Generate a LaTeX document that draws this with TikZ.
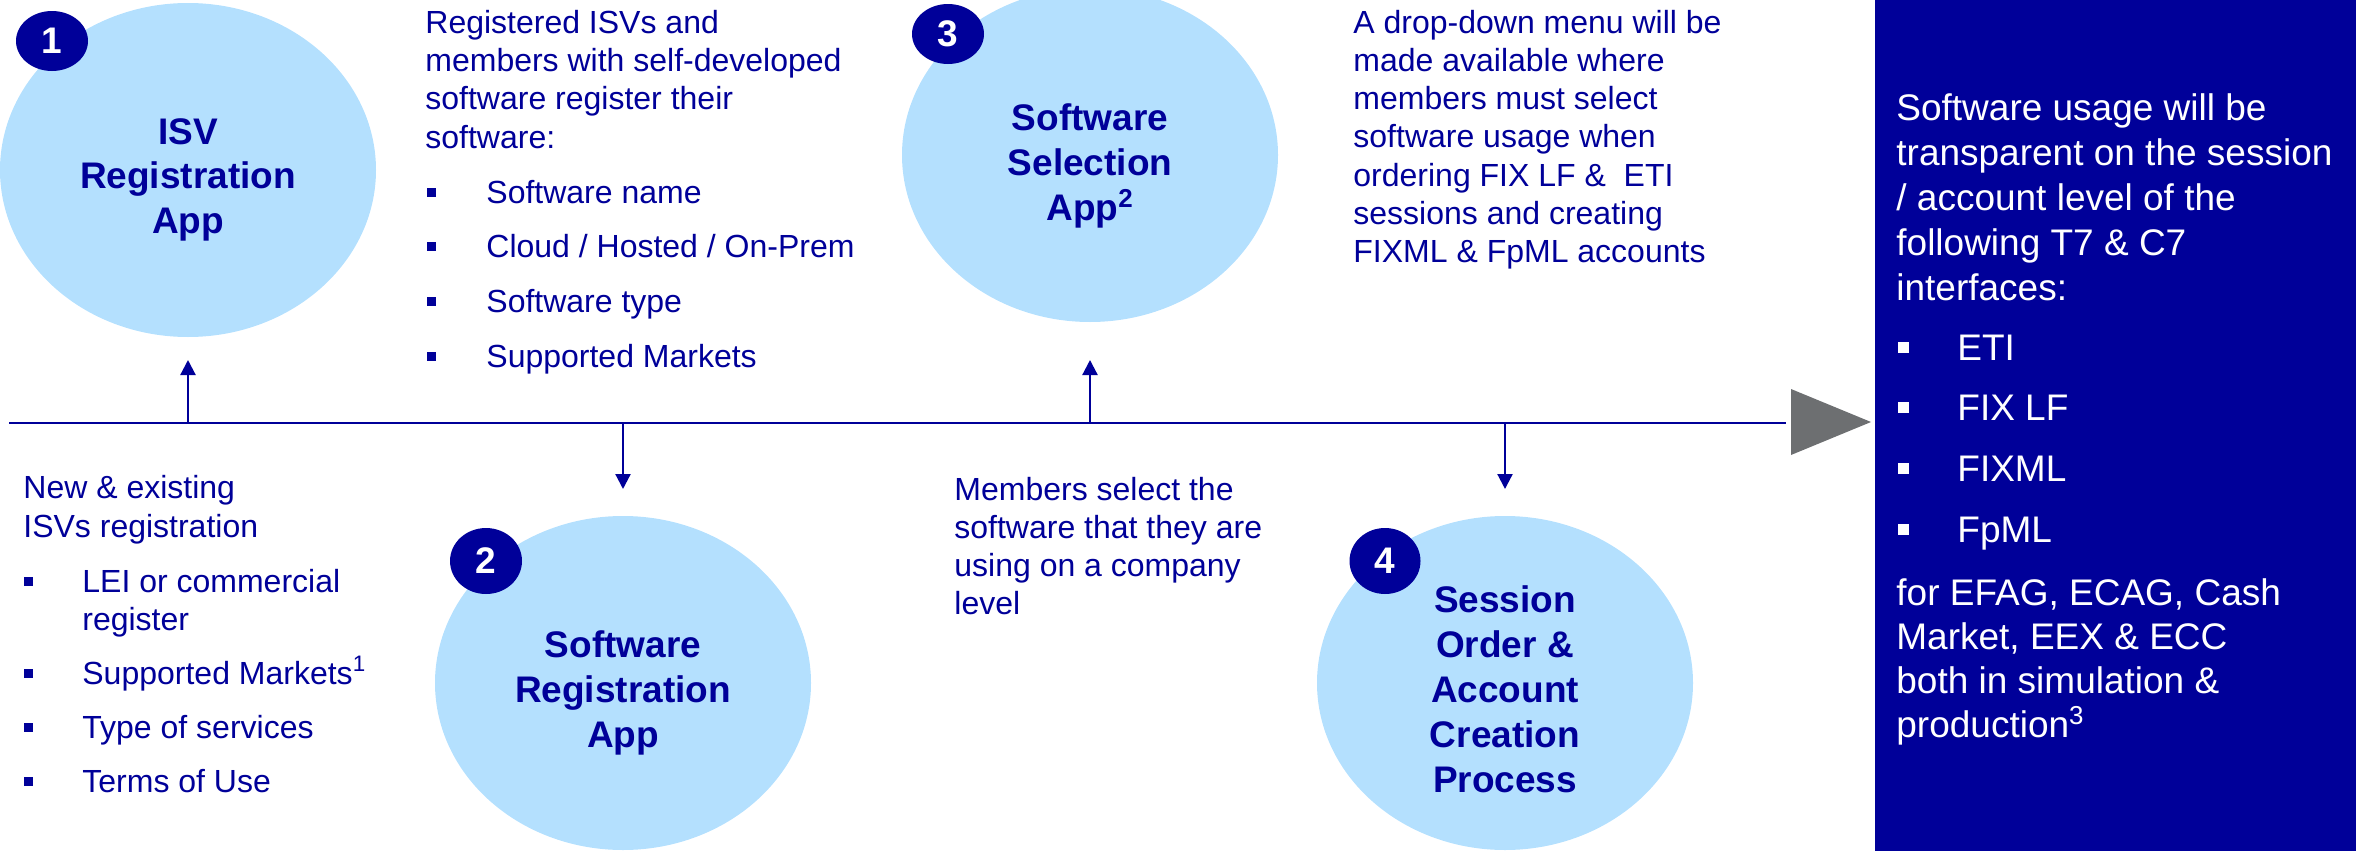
\documentclass[tikz,border=0pt]{standalone}
\usepackage{fontspec}
\setmainfont{Liberation Sans}
\usetikzlibrary{shapes.geometric,arrows.meta}
\definecolor{dblue}{RGB}{0,0,153}
\definecolor{lblue}{RGB}{180,224,254}
\definecolor{tgray}{RGB}{109,111,113}
\begin{document}
\begin{tikzpicture}[x=0.5pt,y=-0.5pt,
  txt/.style={text=dblue, inner sep=0, anchor=base west, font=\fontsize{16}{19}\selectfont},
  ttl/.style={text=dblue, inner sep=0, anchor=base, font=\fontsize{18.5}{22}\selectfont\bfseries},
  wtxt/.style={text=white, inner sep=0, anchor=base west, font=\fontsize{18.5}{22}\selectfont},
  bubble/.style={ellipse, fill=lblue, inner sep=0, minimum width=188pt, minimum height=167pt},
  badge/.style={ellipse, fill=dblue, inner sep=0, text=white, font=\fontsize{18.5}{22}\selectfont\bfseries},
  arr/.style={dblue, line width=1.1pt, -{Triangle[width=7.5pt,length=7.5pt]}}]
\useasboundingbox (0,0) rectangle (2356,851);
% right panel
\fill[dblue] (1875,0) rectangle (2356,851);
% bubbles
\node[bubble] (c1) at (188,170) {};
\node[bubble] (c2) at (623,683) {};
\node[bubble] (c3) at (1090,155) {};
\node[bubble] (c4) at (1505,683) {};
% badges
\node[badge, minimum width=36pt, minimum height=30pt] (b1) at (52,41) {1};
\node[badge, minimum width=36pt, minimum height=33pt] (b2) at (486,561) {2};
\node[badge, minimum width=36pt, minimum height=30pt] (b3) at (948,34) {3};
\node[badge, minimum width=35.5pt, minimum height=33pt] (b4) at (1385,561) {4};
% titles
\foreach \t [count=\i from 0] in {ISV,Registration,App}
  \node[ttl] (t1-\i) at (188,{144+44.5*\i}) {\t};
\foreach \t [count=\i from 0] in {Software,Registration,App}
  \node[ttl] (t2-\i) at (623,{657+45*\i}) {\t};
\foreach \t [count=\i from 0] in {Software,Selection,App\textsuperscript{2}}
  \node[ttl] (t3-\i) at (1090,{130+45*\i}) {\t};
\foreach \t [count=\i from 0] in {Session,Order \&,Account,Creation,Process}
  \node[ttl] (t4-\i) at (1505,{612+45*\i}) {\t};
% timeline
\coordinate (L) at (9,423);
\coordinate (R) at (1786,423);
\draw[dblue, line width=1.1pt] (L) -- (R);
\fill[tgray] (1791,389) -- (1871,422) -- (1791,455) -- cycle;
\coordinate (a1) at (188,423);  \coordinate (e1) at (188,360);
\coordinate (a2) at (623,423);  \coordinate (e2) at (623,489);
\coordinate (a3) at (1090,423); \coordinate (e3) at (1090,360);
\coordinate (a4) at (1505,423); \coordinate (e4) at (1505,489);
\draw[arr] (a1) -- (e1);
\draw[arr] (a2) -- (e2);
\draw[arr] (a3) -- (e3);
\draw[arr] (a4) -- (e4);
% paragraph 1
\foreach \t [count=\i from 0] in {Registered ISVs and,members with self-developed,software register their,software:}
  \node[txt] (p1-\i) at (425,{33+38.4*\i}) {\t};
\foreach \t [count=\i from 0] in {Software name,Cloud / Hosted / On-Prem,Software type,Supported Markets}{
  \fill[dblue] (427,{203+54.7*\i-15.5}) rectangle (436,{203+54.7*\i-6.5});
  \node[txt] (l1-\i) at (486,{203+54.7*\i}) {\t};}
% paragraph 2
\foreach \t [count=\i from 0] in {A drop-down menu will be,made available where,members must select,software usage when,ordering FIX LF \&~ ETI,sessions and creating,FIXML \& FpML accounts}
  \node[txt] (p2-\i) at (1353,{33+38.33*\i}) {\t};
% paragraph 3
\node[txt] (p3-0) at (23,498) {New \& existing};
\node[txt] (p3-1) at (23,537) {ISVs registration};
\node[txt] (l3-0) at (82,592) {LEI or commercial};
\node[txt] (l3-0b) at (82,630) {register};
\node[txt] (l3-1) at (82,684) {Supported Markets\textsuperscript{1}};
\node[txt] (l3-2) at (82,738) {Type of services};
\node[txt] (l3-3) at (82,792) {Terms of Use};
\foreach \y in {592,684,738,792}
  \fill[dblue] (24,{\y-15.5}) rectangle (33,{\y-6.5});
% paragraph 4
\foreach \t [count=\i from 0] in {Members select the,software that they are,using on a company,level}
  \node[txt] (p4-\i) at (954,{500+38.3*\i}) {\t};
% panel text
\foreach \t [count=\i from 0] in {Software usage will be,transparent on the session,/ account level of the,following T7 \& C7,interfaces:}
  \node[wtxt] (w1-\i) at (1896,{120+45*\i}) {\t};
\foreach \t [count=\i from 0] in {ETI,FIX LF,FIXML,FpML}{
  \fill[white] (1898,{360+60.7*\i-18.5}) rectangle (1909,{360+60.7*\i-7.5});
  \node[wtxt] (wl-\i) at (1957,{360+60.7*\i}) {\t};}
\foreach \t [count=\i from 0] in {{for EFAG, ECAG, Cash},{Market, EEX \& ECC},both in simulation \&,production\textsuperscript{3}}
  \node[wtxt] (w2-\i) at (1896,{605+44*\i}) {\t};
\end{tikzpicture}
\end{document}
